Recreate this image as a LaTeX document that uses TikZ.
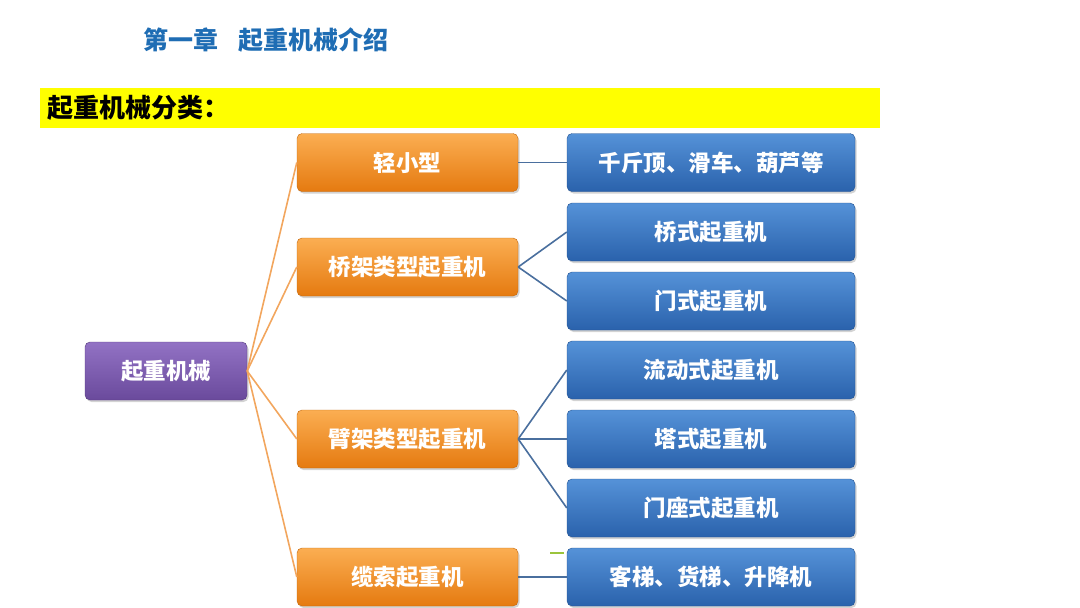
\documentclass[tikz,border=0pt]{standalone}
\usepackage{fontspec}
\setmainfont{Noto Sans CJK SC}
\usepackage{tikz}
\usetikzlibrary{shadows}
\usepackage{xcolor}
\definecolor{titleblue}{HTML}{1F6DB4}
\definecolor{baryellow}{HTML}{FFFF00}
\definecolor{purpletop}{HTML}{9272C4}
\definecolor{purplebot}{HTML}{6A4A9C}
\definecolor{orangetop}{HTML}{FBAE52}
\definecolor{orangebot}{HTML}{E57A10}
\definecolor{bluetop}{HTML}{5592D8}
\definecolor{bluebot}{HTML}{2A62AC}
\definecolor{trunkline}{HTML}{F2A65E}
\definecolor{leafline}{HTML}{4A6F9E}
\definecolor{strayline}{HTML}{9BC43C}

\begin{document}
\begin{tikzpicture}[x=1pt, y=-1pt,
  box/.style={rounded corners=5pt, minimum height=58pt, inner sep=2pt,
    text=white, font=\bfseries\fontsize{22.5}{24}\selectfont,
    drop shadow={opacity=0.35, shadow xshift=1.5pt, shadow yshift=-2pt}},
  rootbox/.style={box, minimum width=162pt, top color=purpletop, bottom color=purplebot, draw=purplebot!80!black},
  classbox/.style={box, minimum width=221pt, top color=orangetop, bottom color=orangebot, draw=orangebot!85!black},
  leafbox/.style={box, minimum width=288pt, top color=bluetop, bottom color=bluebot, draw=bluebot!85!black},
  trunk/.style={trunkline, line width=1.6pt},
  leaf/.style={leafline, line width=1.6pt}]
  \useasboundingbox (0,0) rectangle (1080,608);
  % 标题与黄色标题栏
  \node[anchor=west, text=titleblue, font=\bfseries\fontsize{25}{28}\selectfont] (title) at (140,40) {第一章\hspace{0.8em}起重机械介绍};
  \node[anchor=west, fill=baryellow, minimum height=40pt, text width=826pt, inner xsep=7pt,
    font=\bfseries\fontsize{26}{28}\selectfont] (bar) at (40,108) {起重机械分类：};
  % 根节点
  \node[rootbox] (root) at (166,371) {起重机械};
  % 第二层：分类
  \node[classbox] (light)  at (407.5,162.5) {轻小型};
  \node[classbox] (bridge) at (407.5,267)   {桥架类型起重机};
  \node[classbox] (jib)    at (407.5,439)   {臂架类型起重机};
  \node[classbox] (cable)  at (407.5,577)   {缆索起重机};
  % 第三层：具体机型
  \node[leafbox] (jack)    at (711,162.5) {千斤顶、滑车、葫芦等};
  \node[leafbox] (overhead) at (711,232)  {桥式起重机};
  \node[leafbox] (gantry)  at (711,301)   {门式起重机};
  \node[leafbox] (mobile)  at (711,370)   {流动式起重机};
  \node[leafbox] (tower)   at (711,439)   {塔式起重机};
  \node[leafbox] (portal)  at (711,508)   {门座式起重机};
  \node[leafbox] (lift)    at (711,577)   {客梯、货梯、升降机};
  % 连线
  \foreach \c in {light,bridge,jib,cable}
    \draw[trunk] (root.east) -- (\c.west);
  \draw[leaf] (light.east) -- (jack.west);
  \draw[leaf] (bridge.east) -- (overhead.west);
  \draw[leaf] (bridge.east) -- (gantry.west);
  \foreach \l in {mobile,tower,portal}
    \draw[leaf] (jib.east) -- (\l.west);
  \draw[leaf] (cable.east) -- (lift.west);
  \draw[strayline, line width=1.2pt] (550,553) -- (564,553);
\end{tikzpicture}
\end{document}
